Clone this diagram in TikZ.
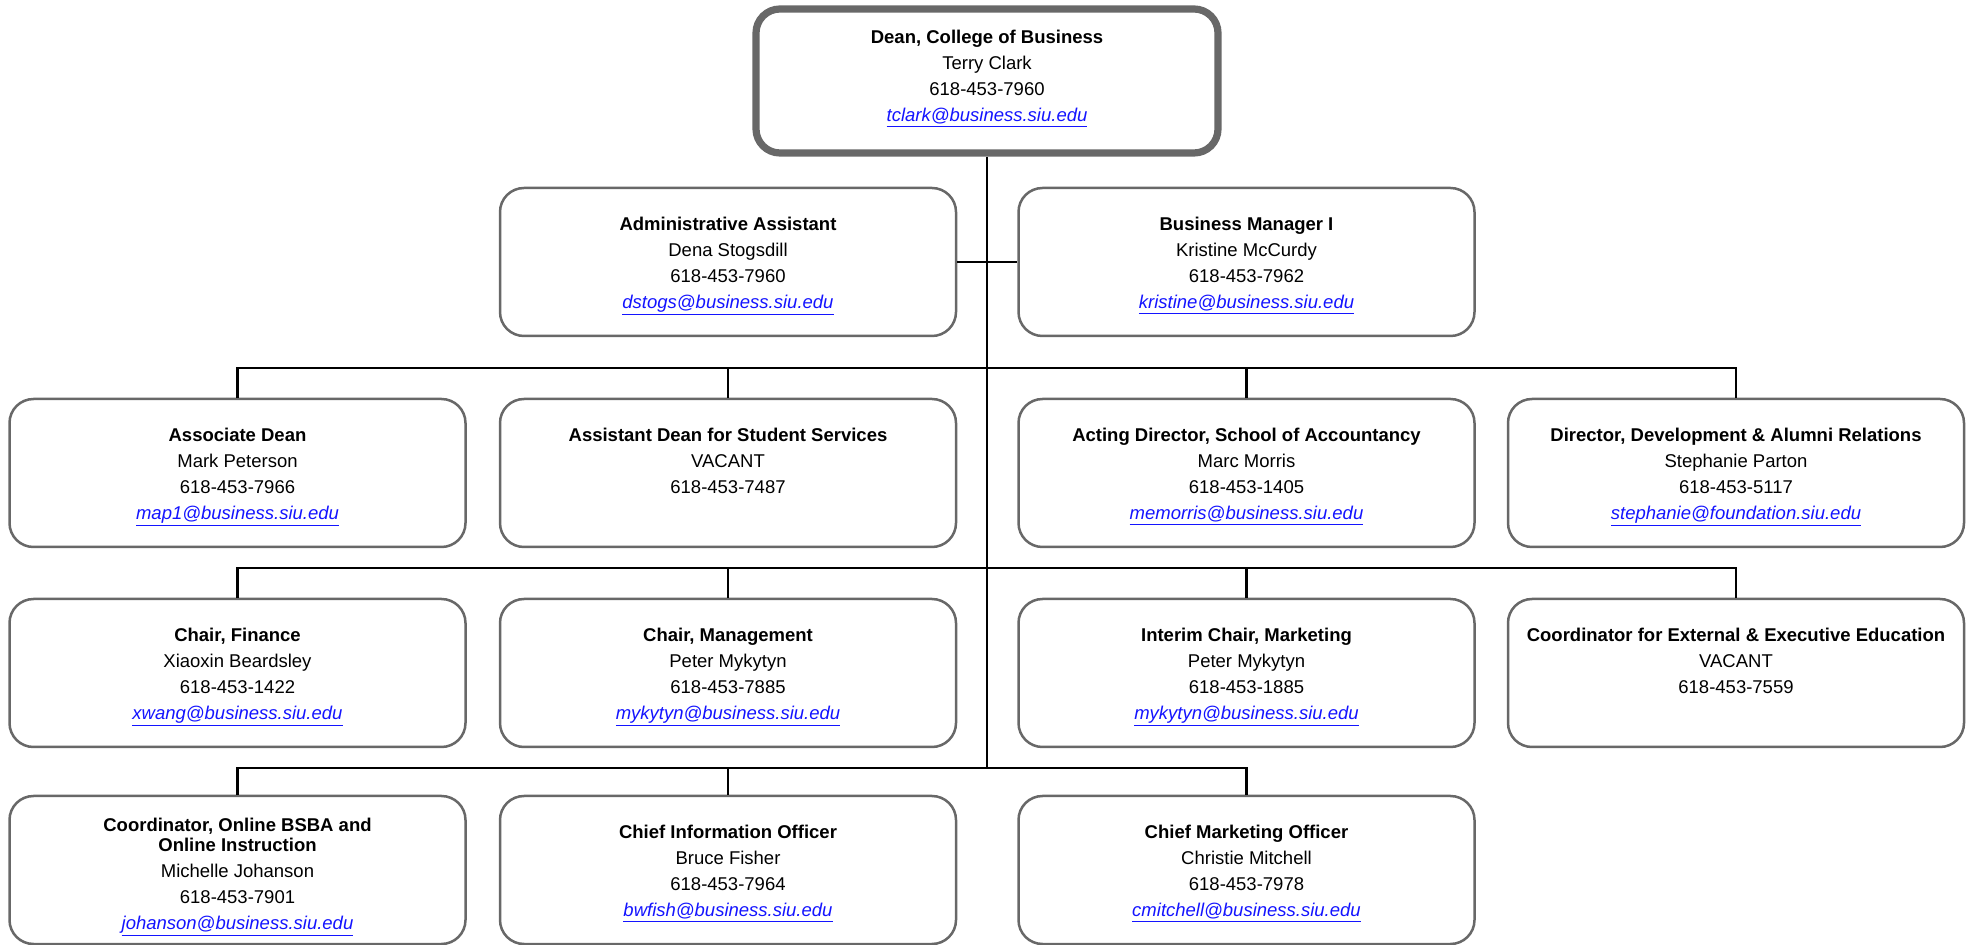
\documentclass[tikz,border=0pt]{standalone}
\usepackage{fontspec}
\setmainfont{Liberation Sans}
\definecolor{boxgray}{RGB}{104,104,104}
\definecolor{linkblue}{RGB}{20,20,255}
\newcommand\emaillink[1]{\textcolor{linkblue}{\underline{\textit{#1}}}}
\newcommand\orgtop{\rule{0pt}{11pt}}
\newcommand\orgbot{\rule[-3.9pt]{0pt}{0pt}}
\newcommand\deanbot{\rule[-9.9pt]{0pt}{0pt}}
\begin{document}
\begin{tikzpicture}[x=0.5pt,y=-0.5pt,
  orgbox/.style={draw=boxgray,line width=1.25pt,rounded corners=12pt,fill=white,
    minimum width=228pt,minimum height=74pt,align=center,inner sep=0pt,
    font=\fontsize{9.25}{13}\selectfont},
  deanbox/.style={orgbox,line width=3.6pt,minimum width=231pt,minimum height=72pt},
  conn/.style={draw=black,line width=1.35pt}]
\useasboundingbox (0,0) rectangle (1971,945);

\coordinate (bus2) at (987,368);
\coordinate (bus3) at (987,568);
\coordinate (bus4) at (987,768);

\node[deanbox] (dean) at (987,81) {\orgtop\textbf{Dean, College of Business}\\Terry Clark\\618-453-7960\\\emaillink{tclark@business.siu.edu}\deanbot};

\node[orgbox] (admin) at (728,262) {\orgtop\textbf{Administrative Assistant}\\Dena Stogsdill\\618-453-7960\\\emaillink{dstogs@business.siu.edu}\orgbot};
\node[orgbox] (bm) at (1246.5,262) {\orgtop\textbf{Business Manager I}\\Kristine McCurdy\\618-453-7962\\\emaillink{kristine@business.siu.edu}\orgbot};

\node[orgbox] (a2) at (237.5,473) {\orgtop\textbf{Associate Dean}\\Mark Peterson\\618-453-7966\\\emaillink{map1@business.siu.edu}\orgbot};
\node[orgbox] (b2) at (728,473) {\orgtop\textbf{Assistant Dean for Student Services}\\VACANT\\618-453-7487\\\orgbot};
\node[orgbox] (c2) at (1246.5,473) {\orgtop\textbf{Acting Director, School of Accountancy}\\Marc Morris\\618-453-1405\\\emaillink{memorris@business.siu.edu}\orgbot};
\node[orgbox] (d2) at (1736,473) {\orgtop\textbf{Director, Development \& Alumni Relations}\\Stephanie Parton\\618-453-5117\\\emaillink{stephanie@foundation.siu.edu}\orgbot};

\node[orgbox] (a3) at (237.5,673) {\orgtop\textbf{Chair, Finance}\\Xiaoxin Beardsley\\618-453-1422\\\emaillink{xwang@business.siu.edu}\orgbot};
\node[orgbox] (b3) at (728,673) {\orgtop\textbf{Chair, Management}\\Peter Mykytyn\\618-453-7885\\\emaillink{mykytyn@business.siu.edu}\orgbot};
\node[orgbox] (c3) at (1246.5,673) {\orgtop\textbf{Interim Chair, Marketing}\\Peter Mykytyn\\618-453-1885\\\emaillink{mykytyn@business.siu.edu}\orgbot};
\node[orgbox] (d3) at (1736,673) {\orgtop\textbf{Coordinator for External \& Executive Education}\\VACANT\\618-453-7559\\\orgbot};

\node[orgbox] (a4) at (237.5,870) {\rule{0pt}{14pt}\textbf{Coordinator, Online BSBA and}\\[-2.95pt]\textbf{Online Instruction}\\Michelle Johanson\\618-453-7901\\\emaillink{johanson@business.siu.edu}\orgbot};
\node[orgbox] (b4) at (728,870) {\orgtop\textbf{Chief Information Officer}\\Bruce Fisher\\618-453-7964\\\emaillink{bwfish@business.siu.edu}\orgbot};
\node[orgbox] (c4) at (1246.5,870) {\orgtop\textbf{Chief Marketing Officer}\\Christie Mitchell\\618-453-7978\\\emaillink{cmitchell@business.siu.edu}\orgbot};

\draw[conn] (dean.south) -- (bus4);
\draw[conn] (admin.east) -- (bm.west);

\draw[conn] (a2.north) |- (bus2) -| (d2.north);
\draw[conn] (b2.north) -- (b2.north |- bus2);
\draw[conn] (c2.north) -- (c2.north |- bus2);

\draw[conn] (a3.north) |- (bus3) -| (d3.north);
\draw[conn] (b3.north) -- (b3.north |- bus3);
\draw[conn] (c3.north) -- (c3.north |- bus3);

\draw[conn] (a4.north) |- (bus4) -| (c4.north);
\draw[conn] (b4.north) -- (b4.north |- bus4);
\end{tikzpicture}
\end{document}
